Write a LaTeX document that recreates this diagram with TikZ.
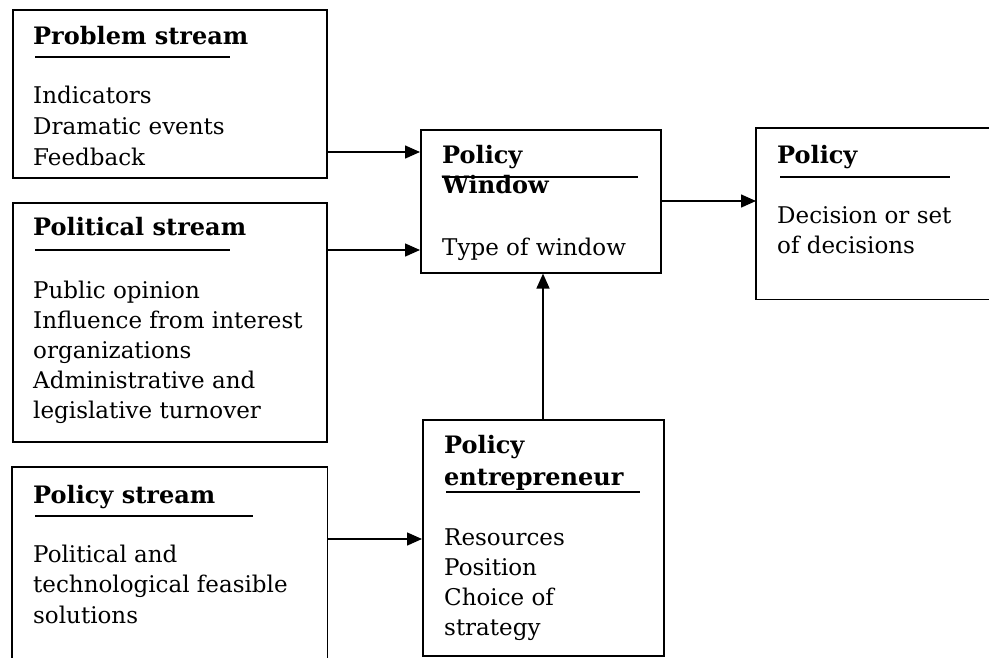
\documentclass[tikz,border=0pt]{standalone}
\usepackage{fontspec}
\setmainfont{DejaVu Serif}
\usetikzlibrary{arrows.meta}
\tikzset{
  box/.style={draw=black,line width=1.6pt,minimum width=#1,anchor=north west,inner sep=0pt},
  txt/.style={anchor=base west,inner sep=0pt,font=\fontsize{23}{27}\selectfont},
  ttl/.style={txt,font=\fontsize{24}{28}\selectfont\bfseries},
  rul/.style={line width=1.6pt},
  arr/.style={line width=1.5pt,-{Triangle[length=15pt,width=13pt]}}
}
\newcommand{\mylines}[5]{%
  \foreach \t [count=\i] in {#5}
    \node[txt] (#1-\i) at (#2,{#3+(\i-1)*#4}) {\t};}
\begin{document}
\begin{tikzpicture}[x=1pt,y=-1pt]
\useasboundingbox (0,0) rectangle (989,657);
% boxes
\node[box=314pt,minimum height=168pt] (prob) at (12,9) {};
\node[box=314pt,minimum height=239pt] (pol) at (12,202) {};
\node[box=314pt,minimum height=195pt,draw=none] (pst) at (12,467) {};
\draw[line width=1.6pt] (pst.south west) -- (pst.north west) -- (pst.north east) -- (pst.south east);
\node[box=240pt,minimum height=143pt] (win) at (420,129) {};
\node[box=240pt,minimum height=170pt,draw=none] (pcy) at (756,128) {};
\draw[line width=1.6pt] (pcy.north east) -- (pcy.north west) -- (pcy.south west) -- (pcy.south east);
\node[box=241pt,minimum height=236pt] (ent) at (422,419) {};
% problem stream
\node[ttl] (probt) at (33,44) {Problem stream};
\draw[rul] (35,57) -- (230,57);
\mylines{probl}{33}{103}{31}{Indicators,Dramatic events,Feedback}
% political stream
\node[ttl] (polt) at (33,235) {Political stream};
\draw[rul] (35,250) -- (230,250);
\mylines{poll}{33}{298}{30}{Public opinion,Influence from interest,organizations,Administrative and,legislative turnover}
% policy stream
\node[ttl] (pstt) at (33,503) {Policy stream};
\draw[rul] (35,516) -- (253,516);
\mylines{pstl}{33}{562}{30.5}{Political and,technological feasible,solutions}
% policy window
\node[ttl] (wint1) at (442,163) {Policy};
\node[ttl] (wint2) at (442,193) {Window};
\draw[rul] (442,177) -- (638,177);
\node[txt] (winl) at (442,255) {Type of window};
% policy
\node[ttl] (pcyt) at (777,163) {Policy};
\draw[rul] (780,177) -- (950,177);
\mylines{pcyl}{777}{223}{30}{Decision or set,of decisions}
% entrepreneur
\node[ttl] (entt1) at (444,453) {Policy};
\node[ttl] (entt2) at (444,485) {entrepreneur};
\draw[rul] (446,492) -- (640,492);
\mylines{entl}{444}{545}{30}{Resources,Position,Choice of,strategy}
% connectors
\draw[arr] (prob.east |- 0,152) -- (win.west |- 0,152);
\draw[arr] (pol.east |- 0,250) -- (win.west |- 0,250);
\draw[arr] (win.east |- 0,201) -- (pcy.west |- 0,201);
\draw[arr] (pst.east |- 0,539) -- (ent.west |- 0,539);
\draw[arr] (ent.north -| 543,0) -- (win.south -| 543,0);
\end{tikzpicture}
\end{document}
